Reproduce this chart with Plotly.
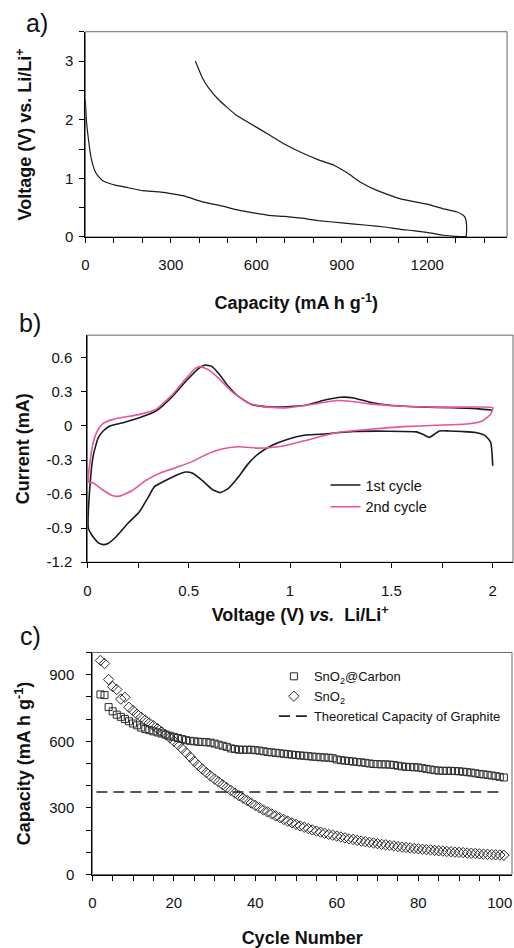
import plotly.graph_objects as go

# ---------------- Panel a: charge/discharge profile ----------------
cap_a = [0, 3.5, 10, 17, 25, 36, 48, 61, 80, 108, 150, 201, 259, 300, 346, 410, 479, 526,
         580, 642, 700, 760, 816, 900, 990, 1050, 1106, 1150, 1199, 1257, 1300, 1325, 1336,
         1338, 1337, 1333, 1326, 1303, 1257, 1199, 1106, 1025, 967, 920, 874, 816, 758, 700,
         642, 584, 526, 468, 433, 410, 386]
volt_a = [2.34, 2.0, 1.7, 1.44, 1.25, 1.10, 1.02, 0.96, 0.92, 0.88, 0.84, 0.79, 0.77, 0.74,
          0.70, 0.60, 0.53, 0.47, 0.42, 0.37, 0.35, 0.32, 0.28, 0.24, 0.20, 0.17, 0.13, 0.11,
          0.08, 0.03, 0.01, 0.005, 0.008,
          0.1, 0.25, 0.33, 0.37, 0.43, 0.48, 0.56, 0.65, 0.79, 0.93, 1.09, 1.22, 1.32, 1.44,
          1.58, 1.75, 1.92, 2.09, 2.34, 2.54, 2.72, 3.0]

# ---------------- Panel b: cyclic voltammetry ----------------
cv1_v = [2.0, 1.99, 1.964, 1.915, 1.85, 1.785, 1.737, 1.712, 1.688, 1.655, 1.623, 1.476, 1.314,
         1.151, 1.07, 0.989, 0.907, 0.842, 0.793, 0.745, 0.696, 0.655, 0.615, 0.566, 0.517,
         0.485, 0.436, 0.371, 0.33, 0.306, 0.257, 0.2, 0.143, 0.102, 0.078, 0.054, 0.021,
         0.005, 0.013, 0.029, 0.054, 0.078, 0.11, 0.176, 0.257, 0.338, 0.42, 0.485, 0.55,
         0.582, 0.615, 0.647, 0.696, 0.745, 0.81, 0.907, 1.07, 1.167, 1.249, 1.314, 1.395,
         1.493, 1.639, 1.80, 1.93, 2.0]
cv1_i = [-0.35, -0.145, -0.087, -0.058, -0.049, -0.044, -0.044, -0.073, -0.10, -0.073, -0.052,
         -0.046, -0.049, -0.073, -0.081, -0.116, -0.174, -0.247, -0.334, -0.45, -0.55, -0.587,
         -0.557, -0.479, -0.415, -0.406, -0.436, -0.494, -0.537, -0.61, -0.755, -0.857, -0.973,
         -1.035, -1.045, -1.03, -0.958, -0.9, -0.523, -0.261, -0.102, -0.044, 0.0, 0.029,
         0.073, 0.131, 0.261, 0.392, 0.508, 0.537, 0.523, 0.465, 0.348, 0.261, 0.189, 0.166,
         0.18, 0.226, 0.253, 0.247, 0.209, 0.183, 0.168, 0.16, 0.151, 0.139]

cv2_v = [2.0, 1.989, 1.948, 1.883, 1.72, 1.558, 1.395, 1.233, 1.07, 0.972, 0.907, 0.842, 0.745,
         0.663, 0.582, 0.517, 0.452, 0.371, 0.289, 0.224, 0.159, 0.127, 0.078, 0.029, 0.005,
         0.013, 0.029, 0.054, 0.078, 0.127, 0.257, 0.338, 0.42, 0.485, 0.533, 0.558, 0.598,
         0.647, 0.712, 0.793, 0.875, 0.989, 1.102, 1.233, 1.297, 1.395, 1.558, 1.72, 1.883, 2.0]
cv2_i = [0.16, 0.102, 0.044, 0.02, 0.006, -0.006, -0.029, -0.058, -0.131, -0.174, -0.189,
         -0.195, -0.183, -0.203, -0.255, -0.314, -0.357, -0.406, -0.479, -0.566, -0.618,
         -0.615, -0.566, -0.502, -0.494, -0.32, -0.145, -0.029, 0.023, 0.058, 0.102, 0.145,
         0.276, 0.415, 0.508, 0.523, 0.494, 0.421, 0.305, 0.203, 0.168, 0.16, 0.189, 0.224,
         0.218, 0.195, 0.174, 0.166, 0.166, 0.16]

# ---------------- Panel c: cycling performance ----------------
cycles = list(range(2, 102))
cap_carbon = [811, 808, 754, 735, 720, 710, 700, 690, 680, 672,
              662, 655, 650, 645, 640, 635, 630, 625, 620, 615,
              610, 605, 602, 600, 598, 597, 596, 594, 590, 585,
              580, 575, 568, 565, 562, 562, 562, 562, 560, 558,
              555, 552, 550, 548, 546, 544, 542, 540, 538, 536,
              535, 533, 531, 530, 528, 527, 526, 524, 518, 515,
              513, 511, 509, 507, 505, 503, 500, 498, 497, 496,
              496, 495, 493, 490, 487, 485, 484, 483, 482, 479,
              476, 473, 470, 468, 467, 467, 467, 466, 465, 463,
              461, 459, 456, 453, 451, 449, 446, 443, 440, 437]
cap_sno2 = [964, 950, 878, 846, 833, 790, 798, 753, 738, 722,
            708, 695, 682, 670, 657, 643, 630, 616, 601, 585,
            567, 549, 530, 510, 492, 475, 459, 444, 430, 417,
            404, 391, 379, 367, 355, 344, 333, 322, 311, 301,
            291, 282, 273, 264, 256, 248, 240, 233, 226, 219,
            213, 207, 201, 196, 191, 186, 181, 177, 173, 169,
            165, 161, 158, 154, 151, 148, 145, 142, 139, 136,
            134, 131, 129, 126, 124, 122, 120, 118, 116, 114,
            112, 111, 109, 107, 106, 104, 103, 101, 100, 99,
            97, 96, 95, 93, 92, 91, 90, 89, 88, 87]
graphite_x = [1, 101]
graphite_cap = [372, 372]

# tick labels
b_yticks = [-1.2, -0.9, -0.6, -0.3, 0, 0.3, 0.6]
b_yticktext = ["-1.2", "-0.9", "-0.6", "-0.3", "0", "0.3", "0.6"]

W, H = 514, 948
FONT = "Liberation Sans, Arial, sans-serif"
INK = "#1a1a1a"

fig = go.Figure()

fig.add_trace(go.Scatter(x=cap_a, y=volt_a, mode="lines",
                         line=dict(color=INK, width=1.2, shape="spline", smoothing=0.4),
                         xaxis="x", yaxis="y", showlegend=False))

fig.add_trace(go.Scatter(x=cv1_v, y=cv1_i, mode="lines", name="1st cycle",
                         line=dict(color=INK, width=1.6, shape="spline", smoothing=0.5),
                         xaxis="x2", yaxis="y2", legend="legend"))
fig.add_trace(go.Scatter(x=cv2_v, y=cv2_i, mode="lines", name="2nd cycle",
                         line=dict(color="#e6549c", width=1.6, shape="spline", smoothing=0.5),
                         xaxis="x2", yaxis="y2", legend="legend"))

fig.add_trace(go.Scatter(x=cycles, y=cap_carbon, mode="markers", name="SnO<sub>2</sub>@Carbon",
                         marker=dict(symbol="square-open", size=7, color="#2a2a2a",
                                     line=dict(width=1)),
                         xaxis="x3", yaxis="y3", legend="legend2"))
fig.add_trace(go.Scatter(x=cycles, y=cap_sno2, mode="markers", name="SnO<sub>2</sub>",
                         marker=dict(symbol="diamond-open", size=8, color="#2a2a2a",
                                     line=dict(width=1)),
                         xaxis="x3", yaxis="y3", legend="legend2"))
fig.add_trace(go.Scatter(x=graphite_x, y=graphite_cap, mode="lines",
                         name="Theoretical Capacity of Graphite",
                         line=dict(color="#222", width=1.6, dash="11px,6px"),
                         xaxis="x3", yaxis="y3", legend="legend2"))


def ax(**kw):
    d = dict(showline=True, linecolor="black", linewidth=1, ticks="outside", ticklen=5,
             tickcolor="black", tickwidth=1, showgrid=False, zeroline=False,
             tickfont=dict(family=FONT, size=15, color="#111"),
             title_font=dict(family=FONT, size=18, color="#111", weight="bold"))
    d.update(kw)
    return d


def minor(step):
    return dict(dtick=step, ticks="outside", ticklen=5, tickwidth=1, tickcolor="black",
                showgrid=False)


def px_x(a, b):
    return [a / W, b / W]


def px_y(top, bottom):
    return [1 - bottom / H, 1 - top / H]


fig.update_layout(
    width=W, height=H, margin=dict(l=0, r=0, t=0, b=0),
    paper_bgcolor="white", plot_bgcolor="white",
    font=dict(family=FONT, color="#111"),
    xaxis=ax(domain=px_x(82, 507), anchor="y", range=[0, 1480], tick0=0, dtick=300,
             minor=minor(100), ticklabelstandoff=9,
             title=dict(text="Capacity (mA h g<sup>-1</sup>)", standoff=24)),
    yaxis=ax(domain=px_y(32, 239), anchor="x", range=[0, 3.5], tick0=0, dtick=1,
             minor=minor(0.5), ticklabelstandoff=3,
             title=dict(text="Voltage (V) vs. Li/Li<sup>+</sup>", standoff=28)),
    xaxis2=ax(domain=px_x(84, 513), anchor="y2", range=[0, 2.1], tick0=0, dtick=0.5,
              minor=minor(0.25), ticklabelstandoff=10,
              title=dict(text="Voltage (V) <i>vs.</i>  Li/Li<sup>+</sup>", standoff=10)),
    yaxis2=ax(domain=px_y(338, 567), anchor="x2", range=[-1.2, 0.8],
              tickvals=b_yticks, ticktext=b_yticktext, ticklabelstandoff=6,
              title=dict(text="Current (mA)", standoff=12)),
    xaxis3=ax(domain=px_x(89, 512), anchor="y3", range=[0, 103], tick0=0, dtick=20,
              minor=minor(5), ticklabelstandoff=9,
              title=dict(text="Cycle Number", standoff=24)),
    yaxis3=ax(domain=px_y(658, 882), anchor="x3", range=[0, 1000], tick0=0, dtick=300,
              minor=minor(100), ticklabelstandoff=9,
              title=dict(text="Capacity (mA h g<sup>-1</sup>)", standoff=13)),
    legend=dict(x=324 / W, y=1 - 473 / H, xanchor="left", yanchor="top",
                bgcolor="rgba(0,0,0,0)", font=dict(family=FONT, size=14.5, color="#111"),
                itemwidth=30, tracegroupgap=0),
    legend2=dict(x=272 / W, y=1 - 667 / H, xanchor="left", yanchor="top",
                 bgcolor="rgba(0,0,0,0)", font=dict(family=FONT, size=13, color="#111"),
                 itemwidth=30, tracegroupgap=0),
    showlegend=True,
)

for xr, yr in [("x", "y"), ("x2", "y2"), ("x3", "y3")]:
    fig.add_shape(type="rect", xref=f"{xr} domain", yref=f"{yr} domain",
                  x0=0, x1=1, y0=0, y1=1, line=dict(color="#666", width=1), layer="below")

for label, cx, cy in [("a)", 33, 23), ("b)", 26, 326), ("c)", 27, 641)]:
    fig.add_annotation(text=label, xref="paper", yref="paper", x=cx / W, y=1 - cy / H,
                       xanchor="center", yanchor="middle", showarrow=False,
                       font=dict(family=FONT, size=25, color="#111"))

fig.write_html("out.html", config={"displayModeBar": False},
               post_script="document.body.style.margin='0';document.body.style.overflow='hidden';")
